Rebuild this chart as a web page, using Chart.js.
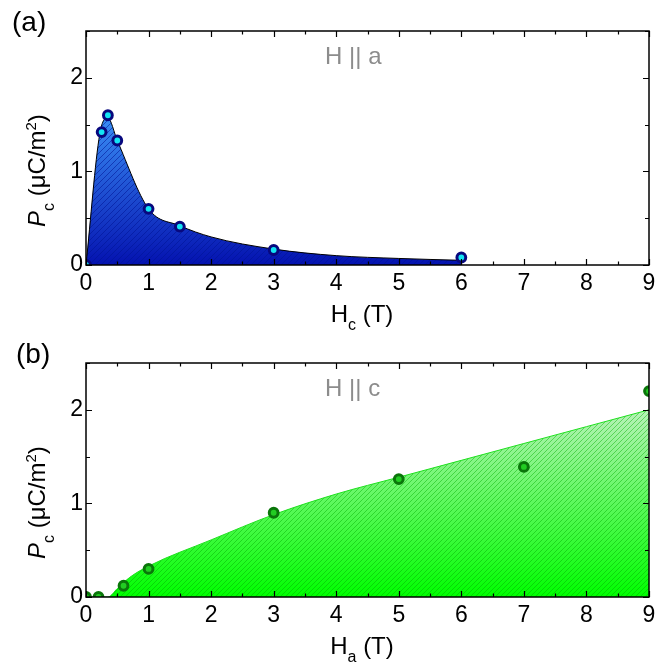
<!DOCTYPE html>
<html>
<head>
<meta charset="utf-8">
<script src="https://cdn.jsdelivr.net/npm/chart.js@4.4.1/dist/chart.umd.min.js"></script>
<style>
  body { margin: 0; background: #fff; width: 669px; height: 668px; position: relative; overflow: hidden; }
  .panel { position: absolute; left: 0; width: 669px; }
</style>
</head>
<body>
<div class="panel" style="top:0;height:335px"><canvas id="chartA" width="669" height="335"></canvas></div>
<div class="panel" style="top:332px;height:336px"><canvas id="chartB" width="669" height="336"></canvas></div>
<script>
// ---- panel (a): H || a, field along c ----
const A_FIELD = [0, 0.25, 0.35, 0.5, 1, 1.5, 3, 6];
const A_PC = [0, 1.42, 1.60, 1.33, 0.60, 0.41, 0.16, 0.08];
const A_EDGE_X = [0, 0.22, 0.35, 0.5, 1, 1.5, 2, 3, 4, 5, 6];
const A_EDGE_Y = [0, 1.40, 1.57, 1.33, 0.60, 0.42, 0.30, 0.17, 0.10, 0.07, 0.05];

// ---- panel (b): H || c, field along a ----
const B_FIELD = [0, 0.2, 0.6, 1, 3, 5, 7, 9];
const B_PC = [0, 0, 0.12, 0.30, 0.90, 1.26, 1.39, 2.20];
const B_EDGE_X = [0, 0.35, 0.5, 0.7, 1, 2, 3, 4, 5, 6, 7, 8, 9];
const B_EDGE_Y = [0, 0, 0.09, 0.21, 0.33, 0.61, 0.88, 1.10, 1.28, 1.46, 1.64, 1.82, 2.0];

const X_MIN = 0, X_MAX = 9;
const Y_MIN = 0, Y_MAX = 2.5;

const FONT = '"Liberation Sans", Arial, Helvetica, sans-serif';
const PLOT = { left: 86, right: 649, top: 31, bottom: 265 };

const zip = (xs, ys) => xs.map((x, i) => ({ x, y: ys[i] }));

// hatched gradient fill, cached per chart
function hatchFill(chart, look) {
  const area = chart.chartArea;
  if (!area) return look.bottom;
  if (chart.$hatch) return chart.$hatch;
  const c = document.createElement("canvas");
  c.width = chart.width;
  c.height = chart.height;
  const g = c.getContext("2d");
  const y0 = chart.scales.y.getPixelForValue(0);
  const y1 = chart.scales.y.getPixelForValue(look.topValue);
  const grad = g.createLinearGradient(0, y1, 0, y0);
  grad.addColorStop(0, look.top);
  grad.addColorStop(1, look.bottom);
  g.fillStyle = grad;
  g.fillRect(0, 0, c.width, c.height);
  g.strokeStyle = look.hatch;
  g.lineWidth = 1;
  g.beginPath();
  for (let k = -c.height; k < c.width; k += look.spacing) {
    g.moveTo(k, c.height);
    g.lineTo(k + c.height, 0);
  }
  g.stroke();
  chart.$hatch = chart.ctx.createPattern(c, "no-repeat");
  return chart.$hatch;
}

function drawRich(ctx, parts, x, y, align) {
  let w = 0;
  parts.forEach(p => { ctx.font = p.font; p.w = ctx.measureText(p.t).width; w += p.w; });
  let cx = align === "center" ? x - w / 2 : x;
  ctx.textAlign = "left";
  ctx.textBaseline = "alphabetic";
  parts.forEach(p => {
    ctx.font = p.font;
    ctx.fillText(p.t, cx, y + (p.dy || 0));
    cx += p.w;
  });
}

// frame + inward ticks on all four sides
const framePlugin = {
  id: "frame",
  afterDatasetsDraw(chart) {
    const { ctx, chartArea: a, scales: { x, y } } = chart;
    ctx.save();
    ctx.strokeStyle = "#000";
    ctx.lineWidth = 1.5;
    ctx.strokeRect(a.left, a.top, a.right - a.left, a.bottom - a.top);
    ctx.lineWidth = 1.2;
    ctx.beginPath();
    for (let v = X_MIN; v <= X_MAX + 1e-9; v += 0.5) {
      const px = Math.round(x.getPixelForValue(v)) + 0.5;
      const len = Number.isInteger(v) ? 6 : 3.5;
      ctx.moveTo(px, a.bottom); ctx.lineTo(px, a.bottom - len);
      ctx.moveTo(px, a.top); ctx.lineTo(px, a.top + len);
    }
    for (let v = Y_MIN; v <= Y_MAX + 1e-9; v += 0.5) {
      const py = Math.round(y.getPixelForValue(v)) + 0.5;
      const len = Number.isInteger(v) ? 6 : 4;
      ctx.moveTo(a.left, py); ctx.lineTo(a.left + len, py);
      ctx.moveTo(a.right, py); ctx.lineTo(a.right - len, py);
    }
    ctx.stroke();
    ctx.restore();
  },
  afterDraw(chart) {
    const t = chart.options.plugins.frame;
    const ctx = chart.ctx;
    ctx.save();
    ctx.fillStyle = "#000";
    // panel letter
    ctx.font = `28px ${FONT}`;
    ctx.textAlign = "left";
    ctx.textBaseline = "alphabetic";
    ctx.fillText(t.letter, t.letterX, 31);
    // field direction note
    ctx.fillStyle = "#8c8c8c";
    ctx.font = `24px ${FONT}`;
    ctx.fillText(t.note, 325, 64);
    // x title
    ctx.fillStyle = "#000";
    drawRich(ctx, [
      { t: "H", font: `24px ${FONT}` },
      { t: t.xSub, font: `16px ${FONT}`, dy: 8 },
      { t: " (T)", font: `24px ${FONT}` }
    ], 362, 322, "center");
    // y title, rotated
    ctx.translate(45, 227);
    ctx.rotate(-Math.PI / 2);
    drawRich(ctx, [
      { t: "P", font: `italic 24px ${FONT}` },
      { t: "c", font: `16px ${FONT}`, dy: 9 },
      { t: " (\u03bcC/m", font: `24px ${FONT}` },
      { t: "2", font: `15px ${FONT}`, dy: -9 },
      { t: ")", font: `24px ${FONT}` }
    ], 0, 0, "left");
    ctx.restore();
  }
};

function makePanel(id, opts) {
  const canvas = document.getElementById(id);
  const H = canvas.height;
  return new Chart(canvas.getContext("2d"), {
    type: "line",
    data: {
      datasets: [
        {
          data: opts.points,
          showLine: false,
          pointRadius: 4.4,
          pointBorderWidth: 3,
          pointBackgroundColor: opts.pointFill,
          pointBorderColor: opts.pointEdge,
          clip: 0,
          order: 0
        },
        {
          data: opts.edge,
          borderColor: opts.edgeColor,
          borderWidth: 1,
          pointRadius: 0,
          cubicInterpolationMode: "monotone",
          fill: "origin",
          backgroundColor: (ctx) => hatchFill(ctx.chart, opts.look),
          clip: 0,
          order: 1
        }
      ]
    },
    options: {
      responsive: false,
      animation: false,
      devicePixelRatio: 1,
      events: [],
      layout: { padding: { left: 0, top: PLOT.top, right: 669 - PLOT.right, bottom: 0 } },
      plugins: {
        legend: { display: false },
        tooltip: { enabled: false },
        frame: { letter: opts.letter, letterX: opts.letterX, note: opts.note, xSub: opts.xSub }
      },
      scales: {
        x: {
          type: "linear",
          min: X_MIN,
          max: X_MAX,
          grid: { display: false, drawTicks: false },
          border: { display: false },
          ticks: { stepSize: 1, includeBounds: false, padding: 5, color: "#000", font: { family: FONT, size: 23 } },
          afterFit: (s) => { s.height = H - PLOT.bottom; }
        },
        y: {
          type: "linear",
          min: Y_MIN,
          max: Y_MAX,
          grid: { display: false, drawTicks: false },
          border: { display: false },
          ticks: { stepSize: 1, includeBounds: false, padding: 3, color: "#000", font: { family: FONT, size: 23 } },
          afterFit: (s) => { s.width = PLOT.left; }
        }
      }
    },
    plugins: [framePlugin]
  });
}

makePanel("chartA", {
  letter: "(a)",
  letterX: 12,
  note: "H || a",
  xSub: "c",
  points: zip(A_FIELD, A_PC),
  edge: zip(A_EDGE_X, A_EDGE_Y),
  pointFill: "#14e4f4",
  pointEdge: "#08087e",
  edgeColor: "#000",
  look: { top: "#3a90f6", bottom: "#0412b0", hatch: "rgba(0, 20, 150, 0.55)", spacing: 6, topValue: 1.6 }
});

makePanel("chartB", {
  letter: "(b)",
  letterX: 16,
  note: "H || c",
  xSub: "a",
  points: zip(B_FIELD, B_PC),
  edge: zip(B_EDGE_X, B_EDGE_Y),
  pointFill: "#22cc22",
  pointEdge: "#0a760a",
  edgeColor: "#1ee01e",
  look: { top: "#b8f2b8", bottom: "#00ff00", hatch: "rgba(0, 170, 0, 0.45)", spacing: 5, topValue: 2.0 }
});
</script>
</body>
</html>
